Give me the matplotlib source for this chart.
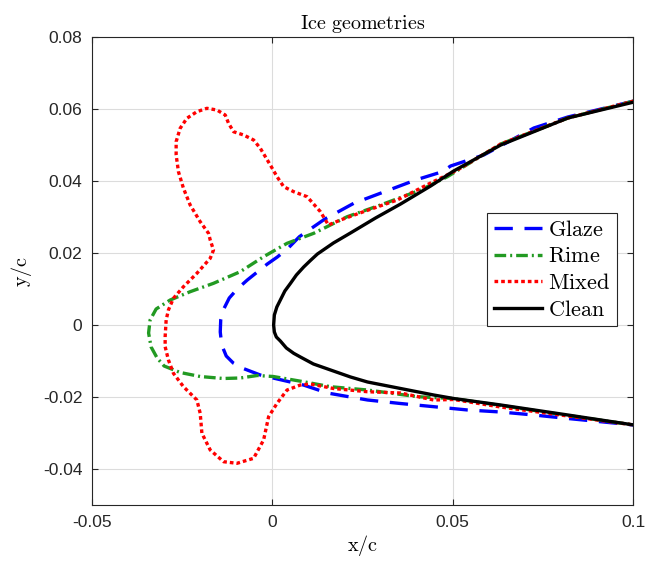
import matplotlib
matplotlib.use("Agg")
import matplotlib.pyplot as plt

plt.rcParams['mathtext.fontset'] = 'cm'

# ---- data (x/c, y/c) ----
clean_x = [0.10028, 0.08194, 0.06333, 0.05028, 0.04389, 0.03556, 0.02861, 0.02167, 0.01694, 0.0125,
           0.01056, 0.00869, 0.00667, 0.005, 0.00347, 0.00222, 0.00125, 0.00056, 0.00036,
           0.00056, 0.00111, 0.00222, 0.00389, 0.00592, 0.00778, 0.01139, 0.01694, 0.02167, 0.02639,
           0.03556, 0.04472, 0.05028, 0.06333, 0.08194, 0.10028]
clean_y = [0.06194, 0.0575, 0.05, 0.04278, 0.03861, 0.03361, 0.02972, 0.02556, 0.02278, 0.01972,
           0.01792, 0.01611, 0.01389, 0.01153, 0.00944, 0.00694, 0.005, 0.00278, 0.0,
           -0.00194, -0.00333, -0.00444, -0.00639, -0.00786, -0.00889, -0.01083, -0.01278, -0.01444, -0.01583,
           -0.01764, -0.01944, -0.02042, -0.02222, -0.025, -0.02778]

glaze_x = [0.10028, 0.08194, 0.0725, 0.05861, 0.04944, 0.04714, 0.03972, 0.03111, 0.02258, 0.01444,
           0.0075, 0.00444, 0.00139, -0.00139, -0.00417, -0.00694, -0.00972, -0.01194, -0.01361, -0.01431,
           -0.01444, -0.01403, -0.01278, -0.01083, -0.00806, -0.00333, 0.00139, 0.00861, 0.01528, 0.02639,
           0.03556, 0.04472, 0.05417, 0.06333, 0.0725, 0.08194, 0.10028]
glaze_y = [0.06222, 0.05778, 0.05472, 0.04722, 0.04417, 0.04258, 0.04028, 0.03703, 0.03381, 0.02936,
           0.02453, 0.02139, 0.01889, 0.01694, 0.01472, 0.0125, 0.01, 0.0075, 0.00417, 0.00139,
           -0.00194, -0.00556, -0.00861, -0.01056, -0.01208, -0.01389, -0.015, -0.01667, -0.01889, -0.02083,
           -0.02181, -0.02269, -0.02361, -0.02417, -0.025, -0.02597, -0.02778]

rime_x = [0.10028, 0.08194, 0.06333, 0.04853, 0.04111, 0.03, 0.02075, 0.01147, 0.00408, -0.00242,
          -0.00889, -0.01631, -0.02278, -0.02833, -0.03222, -0.03389, -0.03431, -0.03361, -0.03194, -0.03,
          -0.02556, -0.02, -0.01361, -0.00889, -0.00417, 0.00028, 0.00861, 0.01611, 0.02639, 0.04028,
          0.05, 0.06333, 0.08194, 0.10028]
rime_y = [0.06222, 0.0575, 0.05028, 0.04119, 0.0375, 0.03333, 0.03008, 0.02547, 0.02269, 0.01897,
          0.01481, 0.01158, 0.00925, 0.00694, 0.00444, 0.00139, -0.00222, -0.00611, -0.00917, -0.01139,
          -0.01319, -0.01431, -0.01486, -0.01472, -0.01403, -0.01431, -0.01575, -0.01714, -0.01806, -0.01992,
          -0.02042, -0.02236, -0.02514, -0.02778]

mixed_x = [0.10028, 0.08194, 0.06333, 0.05131, 0.04389, 0.03464, 0.02528, 0.01889, 0.01556, 0.01333,
           0.00964, 0.00592, 0.00314, 0.00131, -0.00056, -0.00333, -0.00519, -0.00797, -0.01075, -0.01214,
           -0.01306, -0.01536, -0.01814, -0.02092, -0.02369, -0.02556, -0.02667, -0.02667, -0.02603, -0.02464,
           -0.02278, -0.02, -0.01769, -0.01722, -0.01631, -0.01722, -0.02092, -0.02464, -0.02742, -0.02881,
           -0.02944, -0.02972, -0.02972, -0.02881, -0.02742, -0.02464, -0.02092, -0.02, -0.01953, -0.01722,
           -0.01353, -0.00981, -0.00519, -0.00242, -0.00103, 0.00131, 0.00408, 0.00778, 0.01056, 0.01694,
           0.02631, 0.03556, 0.04472, 0.05028, 0.06333, 0.08194, 0.10028]
mixed_y = [0.06222, 0.0575, 0.05028, 0.04306, 0.03944, 0.03472, 0.03147, 0.02917, 0.02778, 0.03147,
           0.03564, 0.03703, 0.03842, 0.04119, 0.04444, 0.04908, 0.05139, 0.05278, 0.05369, 0.05603,
           0.05833, 0.05972, 0.06019, 0.05925, 0.05742, 0.05464, 0.05092, 0.04722, 0.04258, 0.03797,
           0.03333, 0.02869, 0.02547, 0.02361, 0.02083, 0.01853, 0.01436, 0.01064, 0.00742, 0.00417,
           0.00139, -0.00325, -0.00603, -0.00972, -0.01342, -0.01714, -0.02083, -0.02453, -0.03008, -0.03472,
           -0.03797, -0.03842, -0.03703, -0.03194, -0.02547, -0.02175, -0.01806, -0.01667, -0.01639, -0.01764,
           -0.01853, -0.01889, -0.02083, -0.02069, -0.02278, -0.02528, -0.02778]

series_names = ['Glaze', 'Rime', 'Mixed', 'Clean']
x_ticks = [-0.05, 0, 0.05, 0.1]
x_tick_labels = ['-0.05', '0', '0.05', '0.1']
y_ticks = [-0.04, -0.02, 0, 0.02, 0.04, 0.06, 0.08]
y_tick_labels = ['-0.04', '-0.02', '0', '0.02', '0.04', '0.06', '0.08']

fig = plt.figure(figsize=(6.46, 5.70), dpi=100)
ax = fig.add_axes([92/646, 65/570, 541/646, 468/570])

lw = 2.4
ax.plot(glaze_x, glaze_y, color='#0000ff', lw=lw, dashes=(5.5, 3.5), label=r'$\mathrm{' + series_names[0] + '}$')
ax.plot(rime_x, rime_y, color='#229a22', lw=lw, dashes=(3.5, 1.2, 0.6, 1.2), label=r'$\mathrm{' + series_names[1] + '}$')
ax.plot(mixed_x, mixed_y, color='#ff0000', lw=lw, dashes=(1.1, 0.9), label=r'$\mathrm{' + series_names[2] + '}$')
ax.plot(clean_x, clean_y, color='black', lw=lw, solid_joinstyle='round', label=r'$\mathrm{' + series_names[3] + '}$')

ax.set_xlim(-0.05, 0.1)
ax.set_ylim(-0.05, 0.08)
ax.set_xticks(x_ticks)
ax.set_xticklabels(x_tick_labels)
ax.set_yticks(y_ticks)
ax.set_yticklabels(y_tick_labels)
ax.grid(True, color='#dcdcdc', lw=0.8)
ax.set_axisbelow(True)
ax.tick_params(direction='in', top=True, right=True, length=4, width=0.8, colors='#262626',
               labelsize=12.5, pad=7)
for lab in ax.get_xticklabels() + ax.get_yticklabels():
    lab.set_fontfamily('Liberation Sans')
for sp in ax.spines.values():
    sp.set_color('#262626')
    sp.set_linewidth(0.8)

ax.set_title(r'$\mathrm{Ice\ geometries}$', fontsize=14.5, pad=6)
ax.set_xlabel(r'$\mathrm{x/c}$', fontsize=14.5, labelpad=2)
ax.set_ylabel(r'$\mathrm{y/c}$', fontsize=14.5, labelpad=6)

leg = ax.legend(loc='upper left', bbox_to_anchor=(0.730, 0.624), fontsize=16,
                handlelength=2.2, handletextpad=0.27, borderpad=0.3, labelspacing=0.3,
                fancybox=False, framealpha=1, edgecolor='#262626', borderaxespad=0)
leg.get_frame().set_linewidth(0.8)

fig.savefig('out.png', dpi=100)
